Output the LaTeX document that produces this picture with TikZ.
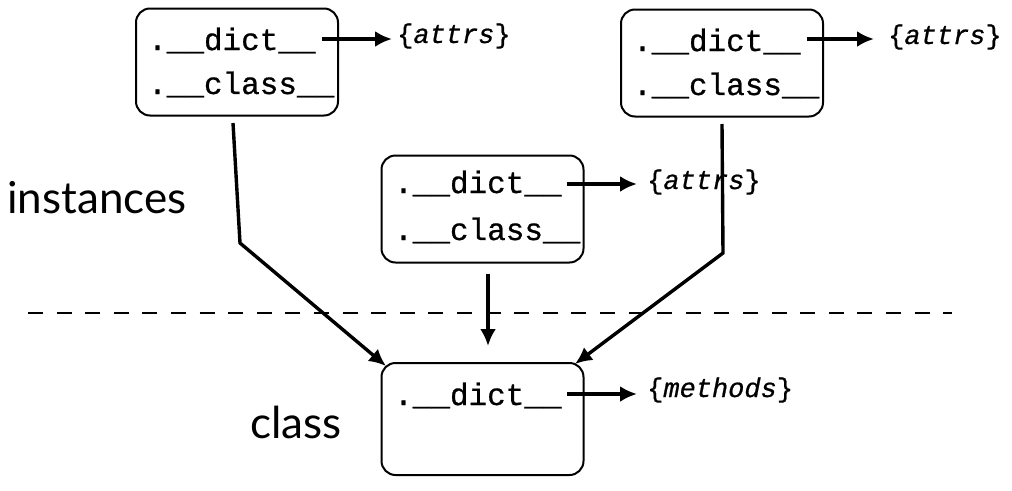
\documentclass[tikz,border=0pt]{standalone}
\usepackage{fontspec}
\setmonofont{Liberation Mono}[FakeBold=0.7]
\setsansfont{Lato}
\usetikzlibrary{arrows.meta}
\begin{document}
\begin{tikzpicture}[x=1pt,y=-1pt,
  objbox/.style={draw, line width=2pt, rounded corners=14pt, minimum width=202pt, minimum height=107pt, inner sep=0pt},
  attr/.style={font=\fontsize{31}{31}\selectfont\ttfamily, anchor=base west, inner sep=0pt},
  dictval/.style={font=\fontsize{27}{27}\selectfont\ttfamily, anchor=base west, inner sep=0pt},
  lbl/.style={font=\fontsize{44}{44}\selectfont\sffamily, anchor=base west, inner sep=0pt},
  conn/.style={line width=3.4pt, -{Latex[length=17pt,width=16pt]}},
  link/.style={line width=3.4pt}]
\useasboundingbox (0,0) rectangle (1012,490);
% boxes
\node[objbox] (A) at (237,62) {};
\node[objbox] (B) at (722,63) {};
\node[objbox] (C) at (482.5,209) {};
\node[objbox, minimum height=112pt] (D) at (482.5,419) {};
% box A
\node[attr] (Ad) at (148,50) {.\_\_dict\_\_};
\node[attr] (Ac) at (148,94) {.\_\_class\_\_};
\node[dictval] (Av) at (397,43) {\{\textit{attrs}\}};
% box B
\node[attr] (Bd) at (633,51) {.\_\_dict\_\_};
\node[attr] (Bc) at (633,95) {.\_\_class\_\_};
\node[dictval] (Bv) at (888,44) {\{\textit{attrs}\}};
% box C
\node[attr] (Cd) at (394,193) {.\_\_dict\_\_};
\node[attr] (Cc) at (394,240) {.\_\_class\_\_};
\node[dictval] (Cv) at (647,189) {\{\textit{attrs}\}};
% box D
\node[attr] (Dd) at (394,405) {.\_\_dict\_\_};
\node[dictval] (Dv) at (647,397) {\{\textit{methods}\}};
% labels
\node[lbl] (inst) at (7,213) {instances};
\node[lbl] (cls) at (250,438) {class};
% dict arrows
\coordinate (a1) at (322,39);
\coordinate (a2) at (392,39);
\draw[conn] (a1) -- (a2);
\coordinate (b1) at (807,39);
\coordinate (b2) at (874,39);
\draw[conn] (b1) -- (b2);
\coordinate (c1) at (567,184);
\coordinate (c2) at (637,184);
\draw[conn] (c1) -- (c2);
\coordinate (d1) at (567,394);
\coordinate (d2) at (637,394);
\draw[conn] (d1) -- (d2);
% class links
\coordinate (As) at (233,123);
\coordinate (Ab) at (240,243);
\coordinate (At) at (386,366);
\draw[conn] (As) -- (Ab) -- (At);
\coordinate (Bs) at (722,124);
\coordinate (Bb) at (723,253);
\coordinate (Bt) at (575,364);
\draw[conn] (Bs) -- (Bb) -- (Bt);
\coordinate (Cs) at (488,274);
\coordinate (Ct) at (488,346);
\draw[conn] (Cs) -- (Ct);
% separator
\coordinate (s1) at (28,313);
\coordinate (s2) at (952,313);
\draw[line width=2pt, dash pattern=on 15pt off 13.6pt] (s1) -- (s2);
\end{tikzpicture}
\end{document}
